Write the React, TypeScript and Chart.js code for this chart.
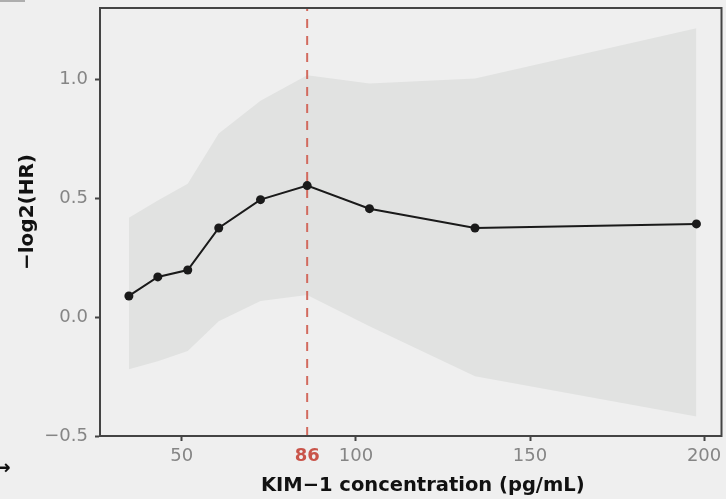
import { useEffect, useRef } from "react";
import { Chart, registerables } from "chart.js";
Chart.register(...registerables);

// KIM-1 concentration (pg/mL) at the evaluated points
const xValues = [34.8, 43.1, 51.7, 60.6, 72.6, 86, 103.9, 134.2, 197.8];
// -log2(HR)
const yValues = [0.089, 0.169, 0.198, 0.375, 0.494, 0.553, 0.456, 0.375, 0.392];
const upperCI = [0.418, 0.49, 0.561, 0.772, 0.91, 1.017, 0.983, 1.004, 1.215];
const lowerCI = [-0.219, -0.186, -0.143, -0.017, 0.068, 0.093, -0.038, -0.249, -0.418];
const cutoff = 86;
const xTicks = [50, 86, 100, 150, 200];
const yTicks = [-0.5, 0, 0.5, 1.0];
const xRange = [26.5, 205];
const yRange = [-0.5, 1.3];
const xTitle = "KIM\u22121 concentration (pg/mL)";
const yTitle = "\u2212log2(HR)";

const BG = "#efefef";
const BAND = "#e1e2e1";
const AXIS = "#444444";
const TICKTXT = "#858585";
const RED = "#c9544a";
const FONT = "'DejaVu Sans', 'Liberation Sans', Arial, sans-serif";

const fmtY = (v: number) => {
  const s = Math.abs(v).toFixed(1);
  return v < 0 ? "\u2212" + s : s;
};

export default function App() {
  const ref = useRef<HTMLCanvasElement>(null);
  useEffect(() => {
    if (!ref.current) return;
    const pts = (ys: number[]) => xValues.map((x, i) => ({ x, y: ys[i] }));
    const bgPlugin = {
      id: "bg",
      beforeDraw(chart: any) {
        const { ctx, width, height } = chart;
        ctx.save();
        ctx.fillStyle = BG;
        ctx.fillRect(0, 0, width, height);
        ctx.restore();
      },
      afterDraw(chart: any) {
        const { ctx, chartArea } = chart;
        ctx.save();
        ctx.strokeStyle = AXIS;
        ctx.lineWidth = 2;
        ctx.strokeRect(chartArea.left, chartArea.top, chartArea.right - chartArea.left, chartArea.bottom - chartArea.top);
        // axis titles
        ctx.fillStyle = "#111";
        ctx.textAlign = "center";
        ctx.textBaseline = "middle";
        ctx.font = `bold 19.5px ${FONT}`;
        ctx.fillText(xTitle, (chartArea.left + chartArea.right) / 2 + 12, 486);
        ctx.save();
        ctx.translate(28, (chartArea.top + chartArea.bottom) / 2 - 10);
        ctx.rotate(-Math.PI / 2);
        ctx.font = `bold 20px ${FONT}`;
        ctx.fillText(yTitle, 0, 0);
        ctx.restore();
        // cropped remnants at the edges
        ctx.textAlign = "left";
        ctx.font = `bold 20px ${FONT}`;
        ctx.fillText("\u2192", -6, 469);
        ctx.strokeStyle = "#999";
        ctx.lineWidth = 1.5;
        ctx.beginPath();
        ctx.moveTo(0, 1);
        ctx.lineTo(25, 1);
        ctx.stroke();
        ctx.restore();
      },
    };
    const chart = new Chart(ref.current, {
      type: "line",
      data: {
        datasets: [
          {
            data: pts(yValues),
            borderColor: "#1a1a1a",
            backgroundColor: "#1a1a1a",
            borderWidth: 2,
            pointRadius: 4.5,
            pointBorderWidth: 0,
            fill: false,
            tension: 0,
          },
          {
            data: [
              { x: cutoff, y: yRange[0] },
              { x: cutoff, y: yRange[1] },
            ],
            borderColor: "#d26a5e",
            borderWidth: 2,
            borderDash: [9, 8],
            pointRadius: 0,
            fill: false,
          },
          {
            data: pts(upperCI),
            borderWidth: 0,
            borderColor: "rgba(0,0,0,0)",
            pointRadius: 0,
            fill: false,
          },
          {
            data: pts(lowerCI),
            borderWidth: 0,
            borderColor: "rgba(0,0,0,0)",
            backgroundColor: BAND,
            pointRadius: 0,
            fill: "-1",
          },
        ],
      },
      options: {
        animation: false,
        responsive: false,
        maintainAspectRatio: false,
        layout: { padding: { top: 8, right: 3, left: 0, bottom: 0 } },
        plugins: { legend: { display: false }, tooltip: { enabled: false } },
        scales: {
          x: {
            type: "linear",
            min: xRange[0],
            max: xRange[1],
            afterBuildTicks: (s: any) => {
              s.ticks = xTicks.map((v) => ({ value: v }));
            },
            afterFit: (s: any) => {
              s.height = 63;
              s.paddingLeft = 0;
              s.paddingRight = 0;
            },
            grid: {
              drawOnChartArea: false,
              drawTicks: true,
              tickLength: 5,
              tickWidth: 2,
              tickColor: (c: any) => (c.tick && c.tick.value === cutoff ? "rgba(0,0,0,0)" : AXIS),
            },
            border: { display: true, color: AXIS, width: 2 },
            ticks: {
              padding: 5,
              autoSkip: false,
              maxRotation: 0,
              font: (c: any) => ({ size: 18, family: FONT, weight: c.tick && c.tick.value === cutoff ? "bold" : "normal" }),
              color: (c: any) => (c.tick && c.tick.value === cutoff ? RED : TICKTXT),
              callback: (v: any) => String(v),
            },
            title: { display: false },
          },
          y: {
            type: "linear",
            min: yRange[0],
            max: yRange[1],
            afterBuildTicks: (s: any) => {
              s.ticks = yTicks.map((v) => ({ value: v }));
            },
            afterFit: (s: any) => {
              s.width = 100;
              s.paddingTop = 0;
              s.paddingBottom = 0;
            },
            grid: {
              drawOnChartArea: false,
              drawTicks: true,
              tickLength: 5,
              tickWidth: 2,
              tickColor: AXIS,
            },
            border: { display: true, color: AXIS, width: 2 },
            ticks: {
              padding: 7,
              font: { size: 18, family: FONT },
              color: TICKTXT,
              callback: (v: any) => fmtY(Number(v)),
            },
            title: { display: false },
          },
        },
      },
      plugins: [bgPlugin],
    } as any);
    return () => chart.destroy();
  }, []);
  return (
    <div style={{ position: "absolute", left: 0, top: 0, width: 726, height: 499, background: BG }}>
      <canvas ref={ref} width={726} height={499} style={{ display: "block" }} />
    </div>
  );
}
